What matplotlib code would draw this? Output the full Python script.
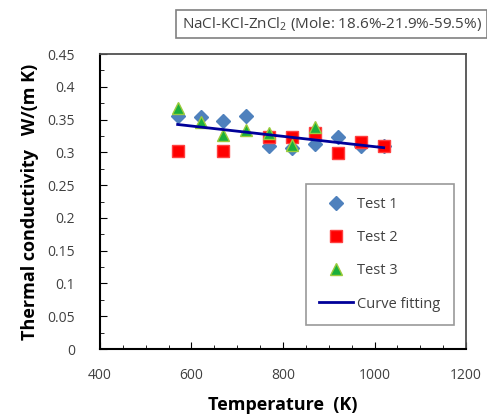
import numpy as np
import matplotlib
matplotlib.use('Agg')
import matplotlib.pyplot as plt

# temperature (K) and thermal conductivity W/(m K)
t1_temp = [570, 620, 670, 720, 770, 820, 870, 920, 970, 1020]
t1_k = [0.356, 0.354, 0.348, 0.356, 0.309, 0.307, 0.313, 0.323, 0.309, 0.310]

t2_temp = [570, 670, 770, 820, 870, 920, 970, 1020]
t2_k = [0.302, 0.302, 0.323, 0.324, 0.329, 0.299, 0.316, 0.310]

t3_temp = [570, 620, 670, 720, 770, 820, 870]
t3_k = [0.368, 0.347, 0.326, 0.334, 0.329, 0.311, 0.339]

title_text = 'NaCl-KCl-ZnCl$_2$ (Mole: 18.6%-21.9%-59.5%)'

plt.rcParams['font.family'] = ['Open Sans', 'DejaVu Sans']
plt.rcParams['mathtext.fontset'] = 'custom'
plt.rcParams['mathtext.rm'] = 'Open Sans'

text_gray = '#404040'

fig = plt.figure(figsize=(4.87, 4.16), dpi=100)
ax = fig.add_axes([0.205, 0.161, 0.752, 0.709])

ax.plot(t1_temp, t1_k, linestyle='none', marker='D', markersize=7,
        color='#4F81BD', label='Test 1', zorder=3)
ax.plot(t2_temp, t2_k, linestyle='none', marker='s', markersize=8.5,
        color='#FF0000', markeredgecolor='#FF4040', label='Test 2', zorder=4)
ax.plot(t3_temp, t3_k, linestyle='none', marker='^', markersize=9,
        color='#1AAF3C', markeredgecolor='#9BCB3C', label='Test 3', zorder=5)

# linear fit over all tests
all_t = np.array(t1_temp + t2_temp + t3_temp)
all_k = np.array(t1_k + t2_k + t3_k)
coef = np.polyfit(all_t, all_k, 1)
fit_x = np.array([min(all_t), max(all_t)])
ax.plot(fit_x, np.polyval(coef, fit_x), color='#000099', linewidth=2,
        label='Curve fitting', zorder=6)

ax.set_xlim(400, 1200)
ax.set_ylim(0, 0.45)
ax.set_xticks([400, 600, 800, 1000, 1200])
ax.set_xticks(np.arange(400, 1201, 50), minor=True)
ax.set_yticks(np.arange(0, 0.451, 0.05))
ax.set_yticklabels(['0', '0.05', '0.1', '0.15', '0.2', '0.25', '0.3', '0.35', '0.4', '0.45'])
ax.set_yticks(np.arange(0, 0.451, 0.025), minor=True)

ax.tick_params(axis='x', which='major', direction='in', length=5,
               labelsize=10, labelcolor=text_gray, pad=14)
ax.tick_params(axis='x', which='minor', direction='in', length=3)
ax.tick_params(axis='y', which='major', direction='in', length=5,
               labelsize=10, labelcolor=text_gray, pad=18)
ax.tick_params(axis='y', which='minor', direction='in', length=3)

ax.spines['left'].set_color('black')
ax.spines['bottom'].set_color('black')
ax.spines['left'].set_linewidth(1.5)
ax.spines['bottom'].set_linewidth(1.5)
ax.spines['top'].set_color('#505050')
ax.spines['right'].set_color('#505050')
ax.spines['top'].set_linewidth(1.3)
ax.spines['right'].set_linewidth(1.3)

ax.set_xlabel('Temperature  (K)', fontsize=13, fontweight='bold', labelpad=9)
ax.set_ylabel('Thermal conductivity   W/(m K)', fontsize=13, fontweight='bold', labelpad=6)

leg = ax.legend(loc='upper left', bbox_to_anchor=(0.544, 0.585), fontsize=10.5,
                frameon=True, fancybox=False, edgecolor='#808080',
                labelspacing=1.25, handlelength=2.3, borderpad=0.9, handletextpad=0.3)
leg.get_frame().set_linewidth(1.2)
for txt in leg.get_texts():
    txt.set_color(text_gray)

fig.text(0.681, 0.942, title_text, ha='center', va='center', fontsize=11,
         color=text_gray,
         bbox=dict(boxstyle='square,pad=0.35', facecolor='white', edgecolor='#808080', linewidth=1.2))

fig.savefig('out.png', dpi=100)
